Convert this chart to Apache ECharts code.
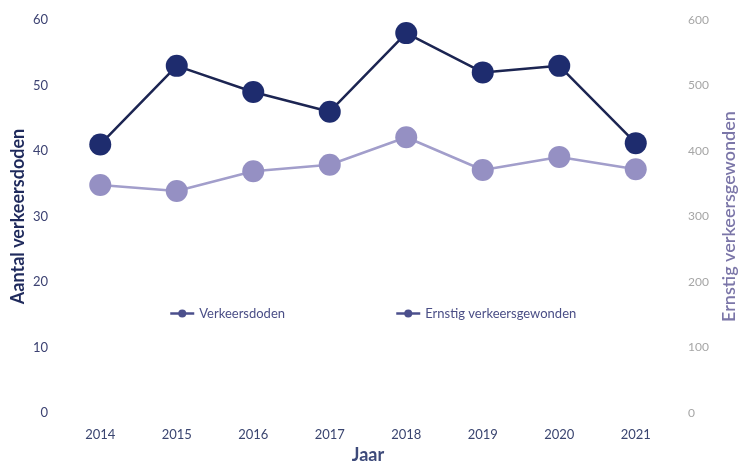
<!DOCTYPE html>
<html>
<head>
<meta charset="utf-8">
<script src="https://cdn.jsdelivr.net/npm/echarts@6/dist/echarts.min.js"></script>
<style>
  html, body { margin: 0; padding: 0; background: #fff; }
  #chart { width: 738px; height: 462px; }
</style>
</head>
<body>
<div id="chart"></div>
<script>
const years = ['2014', '2015', '2016', '2017', '2018', '2019', '2020', '2021'];
const verkeersdoden = [41, 53, 49, 46, 58, 52, 53, 41.2];
const ernstigGewonden = [348, 339, 369, 379, 421, 371, 391, 372];

const chart = echarts.init(document.getElementById('chart'));
const font = 'Lato, "Open Sans", sans-serif';

chart.setOption({
  textStyle: { fontFamily: font },
  grid: { left: 62, right: 64, top: 20, bottom: 49, outerBoundsMode: 'none', containLabel: false },
  legend: {
    left: 164,
    top: 302,
    itemGap: 110,
    itemWidth: 24,
    itemHeight: 10,
    textStyle: { color: '#4a4e86', fontSize: 13, fontFamily: font },
    data: [
      { name: 'Verkeersdoden', itemStyle: { color: '#4b4f8c' }, lineStyle: { color: '#4b4f8c', width: 2.5 } },
      { name: 'Ernstig verkeersgewonden', itemStyle: { color: '#4b4f8c' }, lineStyle: { color: '#4b4f8c', width: 2.5 } }
    ]
  },
  xAxis: {
    type: 'category',
    data: years,
    name: 'Jaar',
    nameLocation: 'middle',
    nameGap: 31,
    nameTextStyle: { color: '#3d4a7a', fontSize: 18, fontWeight: 'bold', fontFamily: font },
    axisLine: { show: false },
    axisTick: { show: false },
    axisLabel: { color: '#3a4570', fontSize: 13, margin: 15 }
  },
  yAxis: [
    {
      type: 'value',
      min: 0, max: 60, interval: 10,
      name: 'Aantal verkeersdoden',
      nameLocation: 'middle',
      nameGap: 35,
      nameMoveOverlap: false,
      nameTextStyle: { color: '#1f2a5c', fontSize: 18, fontWeight: 'bold', fontFamily: font },
      splitLine: { show: false },
      axisLine: { show: false },
      axisTick: { show: false },
      axisLabel: { color: '#3c4272', fontSize: 13, margin: 14 }
    },
    {
      type: 'value',
      min: 0, max: 600, interval: 100,
      name: 'Ernstig verkeersgewonden',
      nameLocation: 'middle',
      nameGap: 46,
      nameTextStyle: { color: '#7b76a8', fontSize: 18, fontWeight: 600, fontFamily: font },
      splitLine: { show: false },
      axisLine: { show: false },
      axisTick: { show: false },
      axisLabel: { color: '#a6a6a6', fontSize: 12, margin: 14 }
    }
  ],
  series: [
    {
      name: 'Verkeersdoden',
      type: 'line',
      yAxisIndex: 0,
      data: verkeersdoden,
      symbol: 'circle',
      symbolSize: 22,
      lineStyle: { color: '#1c2552', width: 2.5 },
      itemStyle: { color: '#1e2c6e' },
      z: 3
    },
    {
      name: 'Ernstig verkeersgewonden',
      type: 'line',
      yAxisIndex: 1,
      data: ernstigGewonden,
      symbol: 'circle',
      symbolSize: 22,
      lineStyle: { color: '#a29ecb', width: 2.5 },
      itemStyle: { color: '#9590c3' },
      z: 2
    }
  ]
});
</script>
</body>
</html>
